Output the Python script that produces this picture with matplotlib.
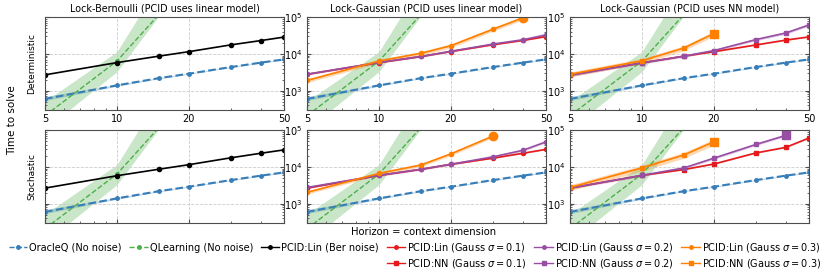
import numpy as np
import matplotlib
matplotlib.use('Agg')
import matplotlib.pyplot as plt
from matplotlib.lines import Line2D
from matplotlib.ticker import FixedLocator, NullFormatter, FixedFormatter, LogLocator

# horizons
H = [5, 10, 15, 20, 30, 40, 50]

# baselines (same in every panel)
oracle = [600, 1400, 2200, 2900, 4400, 5800, 7100]
oracle_lo = [540, 1330, 2120, 2800, 4250, 5600, 6850]
oracle_hi = [700, 1480, 2280, 3000, 4550, 6000, 7350]

qlearn_x = [5, 10, 15]
qlearn = [210, 6400, 118000]
qlearn_lo = [90, 3300, 108000]
qlearn_hi = [520, 11500, 780000]

# Lock-Bernoulli, PCID:Lin (Ber noise)
ber_det = [2700, 5800, 8700, 11500, 17600, 23000, 28600]
ber_sto = [2660, 5770, 8670, 11500, 17700, 23500, 29000]

# Lock-Gaussian, PCID linear model
lin01_det = [2800, 5800, 8500, 11600, 17800, 23200, 29600]
lin02_det = [2800, 5860, 8500, 11800, 18500, 24200, 32900]
lin03_det_x = [5, 10, 15, 20, 30, 40]
lin03_det = [1900, 6400, 10400, 16700, 46800, 95000]

lin01_sto = [2660, 5890, 8600, 11800, 17300, 23500, 30000]
lin02_sto = [2770, 5890, 8670, 11800, 18800, 28300, 48000]
lin03_sto_x = [5, 10, 15, 20, 30]
lin03_sto = [2040, 6650, 11300, 22600, 69000]

# Lock-Gaussian, PCID NN model
nn01_det = [2700, 5700, 8700, 11500, 17500, 23700, 29000]
nn02_det = [2600, 5700, 8700, 12300, 24500, 37000, 61000]
nn03_det_x = [5, 10, 15, 20]
nn03_det = [2800, 6500, 14500, 35700]

nn01_sto = [2660, 5900, 8500, 12000, 24000, 34000, 61000]
nn02_sto_x = [5, 10, 15, 20, 30, 40]
nn02_sto = [2660, 5900, 9400, 17300, 40800, 72000]
nn03_sto_x = [5, 10, 15, 20]
nn03_sto = [2770, 9400, 21200, 48000]

titles = ['Lock-Bernoulli (PCID uses linear model)',
          'Lock-Gaussian (PCID uses linear model)',
          'Lock-Gaussian (PCID uses NN model)']
row_names = ['Deterministic', 'Stochastic']

c_blue = '#377eb8'
c_green = '#4daf4a'
c_red = '#e41a1c'
c_purple = '#984ea3'
c_orange = '#ff7f00'


def draw_series(ax, x, y, color, marker, spread, last_big=False):
    y = np.array(y, dtype=float)
    ax.fill_between(x, y * (1 - spread), y * (1 + spread), color=color, alpha=0.3, lw=0)
    ax.plot(x, y, color=color, marker=marker, ms=3, lw=1.2)
    if last_big:
        ax.plot(x[-1:], y[-1:], color=color, marker=marker, ms=6, ls='none')


fig = plt.figure(figsize=(8.3, 2.75), dpi=100)
lefts = [0.0542, 0.3699, 0.6867]
bottoms = [0.600, 0.189]
axes = [[fig.add_axes([l, b, 0.288, 0.338]) for l in lefts] for b in bottoms]

for r in range(2):
    for c in range(3):
        ax = axes[r][c]
        ax.set_xscale('log')
        ax.set_yscale('log')
        # baselines
        ax.fill_between(H, oracle_lo, oracle_hi, color=c_blue, alpha=0.3, lw=0)
        ax.plot(H, oracle, color=c_blue, ls='--', marker='o', ms=2.5, lw=1.5)
        ax.fill_between(qlearn_x, qlearn_lo, qlearn_hi, color=c_green, alpha=0.3, lw=0)
        ax.plot(qlearn_x, qlearn, color=c_green, ls='--', marker='o', ms=2.5, lw=1.0)

        if c == 0:
            ber = ber_det if r == 0 else ber_sto
            ax.plot(H, ber, color='black', marker='o', ms=3, lw=1.2)
        elif c == 1:
            if r == 0:
                draw_series(ax, H, lin01_det, c_red, 'o', 0.03)
                draw_series(ax, H, lin02_det, c_purple, 'o', 0.05)
                draw_series(ax, lin03_det_x, lin03_det, c_orange, 'o', 0.12, True)
            else:
                draw_series(ax, H, lin01_sto, c_red, 'o', 0.03)
                draw_series(ax, H, lin02_sto, c_purple, 'o', 0.06)
                draw_series(ax, lin03_sto_x, lin03_sto, c_orange, 'o', 0.1, True)
        else:
            if r == 0:
                draw_series(ax, H, nn01_det, c_red, 's', 0.03)
                draw_series(ax, H, nn02_det, c_purple, 's', 0.07)
                draw_series(ax, nn03_det_x, nn03_det, c_orange, 's', 0.15, True)
            else:
                draw_series(ax, H, nn01_sto, c_red, 's', 0.03)
                draw_series(ax, nn02_sto_x, nn02_sto, c_purple, 's', 0.07, True)
                draw_series(ax, nn03_sto_x, nn03_sto, c_orange, 's', 0.18, True)

        ax.set_xlim(5, 50)
        ax.set_ylim(300, 1e5)
        ax.xaxis.set_major_locator(FixedLocator([5, 10, 20, 50]))
        ax.xaxis.set_minor_locator(LogLocator(base=10, subs=np.arange(2, 10), numticks=10))
        ax.xaxis.set_minor_formatter(NullFormatter())
        if r == 0:
            ax.xaxis.set_major_formatter(FixedFormatter(['5', '10', '20', '50']))
        else:
            ax.xaxis.set_major_formatter(NullFormatter())
        ax.yaxis.set_major_locator(FixedLocator([1e3, 1e4, 1e5]))
        ax.yaxis.set_minor_locator(LogLocator(base=10, subs=np.arange(2, 10), numticks=10))
        ax.yaxis.set_minor_formatter(NullFormatter())
        if c == 0:
            ax.yaxis.set_major_formatter(NullFormatter())
            ax.set_ylabel(row_names[r], fontsize=6.5, labelpad=3)
        ax.tick_params(axis='both', which='both', direction='in', labelsize=7,
                       left=True, right=True, colors='0.3', labelcolor='black')
        ax.tick_params(axis='x', which='major', pad=3)
        ax.tick_params(which='major', length=3)
        ax.tick_params(which='minor', length=1.5)
        ax.grid(True, which='major', ls='--', lw=0.6, color='0.8')
        for s in ax.spines.values():
            s.set_color('0.3')
        if r == 0:
            ax.set_title(titles[c], fontsize=6.9, pad=4)

fig.text(0.51, 0.155, 'Horizon = context dimension', ha='center', va='center', fontsize=7.2)
fig.text(0.014, 0.563, 'Time to solve', ha='center', va='center', rotation=90, fontsize=7.5)

# legend
blank = Line2D([], [], alpha=0)
handles = [
    Line2D([], [], color=c_blue, ls='--', marker='o', ms=2.5, lw=1.0), blank,
    Line2D([], [], color=c_green, ls='--', marker='o', ms=2.5, lw=1.0), blank,
    Line2D([], [], color='black', marker='o', ms=2.5, lw=1.0), blank,
    Line2D([], [], color=c_red, marker='o', ms=2.5, lw=1.0),
    Line2D([], [], color=c_red, marker='s', ms=2.5, lw=1.0),
    Line2D([], [], color=c_purple, marker='o', ms=2.5, lw=1.0),
    Line2D([], [], color=c_purple, marker='s', ms=2.5, lw=1.0),
    Line2D([], [], color=c_orange, marker='o', ms=2.5, lw=1.0),
    Line2D([], [], color=c_orange, marker='s', ms=2.5, lw=1.0),
]
labels = ['OracleQ (No noise)', '', 'QLearning (No noise)', '', 'PCID:Lin (Ber noise)', '',
          r'PCID:Lin (Gauss $\sigma = 0.1$)', r'PCID:NN (Gauss $\sigma = 0.1$)',
          r'PCID:Lin (Gauss $\sigma = 0.2$)', r'PCID:NN (Gauss $\sigma = 0.2$)',
          r'PCID:Lin (Gauss $\sigma = 0.3$)', r'PCID:NN (Gauss $\sigma = 0.3$)']
fig.legend(handles, labels, loc='upper center', bbox_to_anchor=(0.5, 0.14), ncol=6,
           frameon=False, fontsize=7, handlelength=1.9, handletextpad=0.2,
           columnspacing=0.8, labelspacing=0.3, borderpad=0)

fig.savefig('out.png', dpi=100)
